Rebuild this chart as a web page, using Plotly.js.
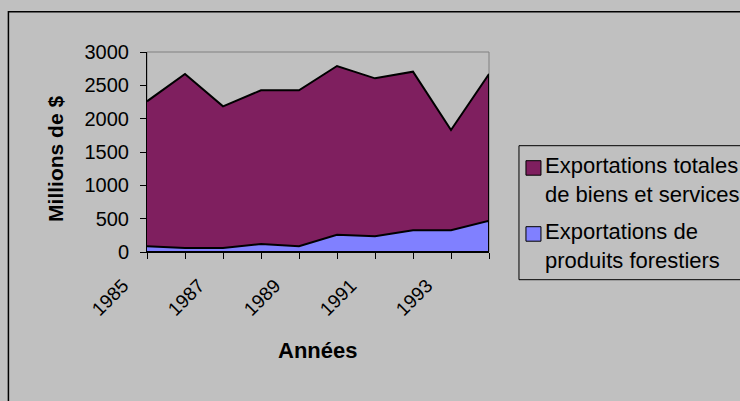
<!DOCTYPE html>
<html>
<head>
<meta charset="utf-8">
<script src="https://cdn.plot.ly/plotly-3.0.1.min.js"></script>
<style>
html,body{margin:0;padding:0;background:#C0C0C0;}
#chart{width:740px;height:401px;}
</style>
</head>
<body>
<div id="chart"></div>
<script>
// ---- data ----
const years = [1985, 1986, 1987, 1988, 1989, 1990, 1991, 1992, 1993, 1994];
const totalExports = [2260, 2670, 2185, 2425, 2425, 2790, 2605, 2705, 1830, 2670];
const forestExports = [85, 60, 60, 120, 85, 260, 235, 325, 325, 470];
const xTickLabels = ['1985', '1987', '1989', '1991', '1993'];
const yTickValues = [0, 500, 1000, 1500, 2000, 2500, 3000];
const seriesNames = ['Exportations totales<br>de biens et services', 'Exportations de<br>produits forestiers'];
const xTitle = 'Années';
const yTitle = 'Millions de $';

const purple = '#7F1F5F';
const blue = '#8080FF';
const bg = '#C0C0C0';
const font = '"Liberation Sans", Arial, sans-serif';

// closed polygon (area down to the axis) built from the data
function poly(vals) {
  return {
    x: years.concat([years[years.length - 1], years[0]]),
    y: vals.concat([0, 0])
  };
}
const pT = poly(totalExports);
const pF = poly(forestExports);

const traces = [
  {x: pT.x, y: pT.y, type: 'scatter', mode: 'lines', fill: 'toself', fillcolor: purple,
   line: {color: '#000', width: 2}, name: 'Exportations totales de biens et services', hoverinfo: 'skip', showlegend: false},
  {x: pF.x, y: pF.y, type: 'scatter', mode: 'lines', fill: 'toself', fillcolor: blue,
   line: {color: '#000', width: 2}, name: 'Exportations de produits forestiers', hoverinfo: 'skip', showlegend: false}
];

const L = 146.7, R = 489, T = 52.3, B = 252.3;
const W = R - L, H = B - T;
const px = x => (x - L) / W;
const py = y => (B - y) / H;

const layout = {
  width: 740, height: 401,
  margin: {l: L, r: 740 - R, t: T, b: 401 - B, pad: 0},
  paper_bgcolor: bg, plot_bgcolor: bg,
  font: {family: font, color: '#000', size: 19},
  showlegend: false,
  xaxis: {
    range: [years[0], years[years.length - 1]],
    tickvals: years,
    ticktext: years.map(y => xTickLabels.includes(String(y)) ? String(y) : ''),
    tickangle: -45,
    ticks: 'outside', ticklen: 6, tickwidth: 1, tickcolor: '#000',
    ticklabelshift: -24, ticklabelstandoff: 8,
    showline: true, linecolor: '#000', linewidth: 1,
    showgrid: false, zeroline: false, fixedrange: true,
    tickfont: {size: 19}
  },
  yaxis: {
    range: [0, 3000],
    tickvals: yTickValues,
    ticks: 'outside', ticklen: 6, tickwidth: 1, tickcolor: '#000',
    ticklabelstandoff: 7,
    showline: true, linecolor: '#000', linewidth: 1,
    showgrid: false, zeroline: false, fixedrange: true,
    tickfont: {size: 20}
  },
  shapes: [
    // plot area border
    {type: 'rect', xref: 'paper', yref: 'paper', x0: 0, x1: 1, y0: 0, y1: 1,
     line: {color: '#808080', width: 1}, layer: 'below'},
    // chart outer border
    {type: 'rect', xref: 'paper', yref: 'paper', x0: px(8), x1: px(760), y0: py(420), y1: py(12),
     line: {color: '#000', width: 1.5}},
    // legend box
    {type: 'rect', xref: 'paper', yref: 'paper', x0: px(519), x1: px(760), y0: py(280), y1: py(146),
     line: {color: '#000', width: 1}},
    // legend swatches
    {type: 'rect', xref: 'paper', yref: 'paper', x0: px(526), x1: px(541), y0: py(175.5), y1: py(161),
     fillcolor: purple, line: {color: '#000', width: 1}},
    {type: 'rect', xref: 'paper', yref: 'paper', x0: px(526), x1: px(541), y0: py(241.5), y1: py(227),
     fillcolor: blue, line: {color: '#000', width: 1}}
  ],
  annotations: [
    {text: '<b>' + yTitle + '</b>', xref: 'paper', yref: 'paper', x: px(55), y: py(158.8),
     textangle: -90, showarrow: false, xanchor: 'center', yanchor: 'middle', font: {size: 21}},
    {text: '<b>' + xTitle + '</b>', xref: 'paper', yref: 'paper', x: px(317), y: py(351),
     showarrow: false, xanchor: 'center', yanchor: 'middle', font: {size: 22}},
    {text: seriesNames[0], xref: 'paper', yref: 'paper', x: px(543), y: py(180),
     showarrow: false, xanchor: 'left', yanchor: 'middle', align: 'left', font: {size: 22}},
    {text: seriesNames[1], xref: 'paper', yref: 'paper', x: px(543), y: py(246),
     showarrow: false, xanchor: 'left', yanchor: 'middle', align: 'left', font: {size: 22}}
  ]
};

Plotly.newPlot('chart', traces, layout, {displayModeBar: false, staticPlot: true});
</script>
</body>
</html>
